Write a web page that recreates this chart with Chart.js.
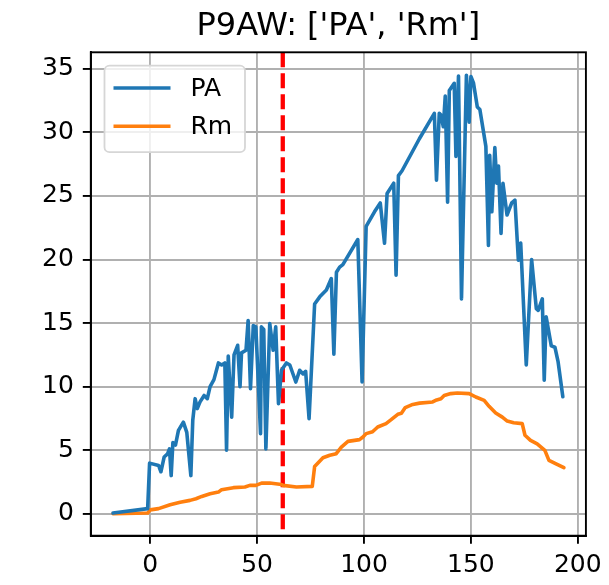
<!DOCTYPE html>
<html>
<head>
<meta charset="utf-8">
<script src="https://cdn.jsdelivr.net/npm/chart.js@4.4.1/dist/chart.umd.min.js"></script>
<style>
  html, body { margin: 0; padding: 0; background: #fff; }
  #box { width: 609px; height: 585px; }
</style>
</head>
<body>
<div id="box"><canvas id="c" width="609" height="585"></canvas></div>
<script>
(function(){
'use strict';

var TITEL = "P9AW: ['PA', 'Rm']";

// PA series (x, y)
var paX = [-17.4, -1.2, -0.3, 3.9, 5.0, 6.5, 8.1, 9.0, 9.8, 10.6, 11.8, 13.2, 15.5, 17.1, 19.0, 19.9,
  21.0, 22.0, 23.3, 25.2, 26.7, 28.0, 29.8, 31.9, 33.4, 34.9, 35.7, 36.5, 38.1, 39.2, 40.9, 42.0,
  42.7, 44.8, 45.8, 46.9, 48.2, 49.4, 51.6, 52.0, 53.1, 54.1, 55.9, 57.5, 58.7, 60.0, 61.4, 63.7,
  65.3, 68.1, 69.9, 71.5, 72.7, 74.3, 76.9, 79.3, 82.4, 84.7, 85.9, 87.1, 88.6, 90.1, 97.1, 99.1,
  101.0, 104.9, 107.6, 109.6, 110.8, 113.9, 115.0, 116.1, 117.8, 125.9, 132.9, 133.9, 135.2, 136.0,
  137.1, 138.0, 139.1, 139.9, 142.2, 143.0, 144.2, 145.6, 147.9, 149.2, 150.0, 151.2, 153.0, 154.2,
  157.0, 158.2, 158.8, 159.8, 161.2, 162.1, 162.9, 164.1, 165.0, 166.9, 169.1, 170.6, 172.2, 173.3,
  175.9, 178.4, 180.6, 181.5, 183.4, 184.3, 185.2, 187.6, 189.3, 190.8, 193.0];
var paY = [0.05, 0.4, 3.98, 3.8, 3.3, 4.46, 4.7, 5.1, 3.0, 5.6, 5.4, 6.56, 7.2, 6.4, 3.0, 7.35,
  9.05, 8.27, 8.8, 9.3, 9.05, 10.0, 10.55, 11.86, 11.7, 11.86, 5.0, 12.4, 7.6, 12.5, 13.25, 10.0,
  12.65, 12.86, 15.2, 9.84, 14.8, 14.7, 6.3, 14.7, 14.5, 5.1, 14.96, 12.86, 14.7, 8.66, 11.28, 11.86,
  11.7, 10.36, 11.28, 11.0, 11.2, 7.48, 16.5, 17.06, 17.6, 18.5, 12.54, 19.0, 19.4, 19.6, 21.57, 10.36,
  22.6, 23.75, 24.45, 21.28, 25.2, 26.0, 18.76, 26.6, 26.98, 29.5, 31.5, 26.24, 31.5, 31.36,
  30.44, 32.86, 24.5, 33.3, 33.86, 28.1, 34.43, 16.9, 34.5, 30.8, 34.4, 33.9, 32.0, 31.8,
  28.9, 21.1, 28.2, 23.75, 28.8, 26.0, 27.35, 22.05, 26.0, 23.5, 24.46, 24.67, 19.94, 21.3,
  11.7, 20.0, 16.14, 16.0, 16.9, 10.5, 15.5, 13.2, 13.1, 11.94, 9.2];

// Rm series
var rmX = [-17.4, -1.2, 0.0, 3.9, 9.3, 14.0, 18.6, 21.4, 24.1, 28.0, 31.9, 33.4, 38.9, 44.3, 46.6,
  49.4, 52.1, 55.9, 61.4, 62.1, 68.4, 75.8, 76.9, 80.8, 84.0, 87.0, 89.4, 92.5, 97.9, 99.5, 101.0,
  104.0, 106.4, 110.3, 112.7, 115.8, 117.5, 119.3, 122.8, 126.0, 132.1, 134.0, 136.0, 137.5, 140.6,
  143.7, 149.2, 152.3, 156.2, 158.5, 161.6, 164.7, 167.0, 170.0, 174.0, 175.3, 177.9, 181.0, 184.6,
  186.5, 189.6, 193.5];
var rmY = [0.0, 0.05, 0.3, 0.4, 0.7, 0.9, 1.05, 1.18, 1.36, 1.57, 1.7, 1.89, 2.05, 2.1, 2.23,
  2.23, 2.41, 2.41, 2.3, 2.23, 2.1, 2.15, 3.72, 4.4, 4.6, 4.72, 5.24, 5.69, 5.83, 6.03, 6.3,
  6.45, 6.82, 7.09, 7.4, 7.82, 7.9, 8.35, 8.6, 8.7, 8.79, 8.95, 9.05, 9.3, 9.45,
  9.5, 9.45, 9.18, 8.92, 8.45, 7.92, 7.6, 7.29, 7.15, 7.09, 6.17, 5.77, 5.5, 4.98,
  4.2, 3.94, 3.62];

var markerX = 62;           // red dashed vertical line
var xTicks = [0, 50, 100, 150, 200];
var yTicks = [0, 5, 10, 15, 20, 25, 30, 35];
var xBereich = [-27.8, 203.8];
var yBereich = [-1.73, 36.3];

var FONT = "'DejaVu Sans', sans-serif";

function paare(xs, ys) {
  return xs.map(function(x, i){ return {x: x, y: ys[i]}; });
}

var rahmenPlugin = {
  id: 'rahmen',
  afterDraw: function(chart) {
    var a = chart.chartArea, ctx = chart.ctx;
    ctx.save();
    ctx.strokeStyle = '#000';
    ctx.lineWidth = 1.9;
    ctx.strokeRect(a.left, a.top, a.right - a.left, a.bottom - a.top);

    // title, centred over the axes
    ctx.fillStyle = '#000';
    ctx.font = '32px ' + FONT;
    ctx.textAlign = 'center';
    ctx.textBaseline = 'middle';
    ctx.fillText(TITEL, (a.left + a.right) / 2, 26.5);

    // legend box in upper left
    var lx = a.left + 13.7, ly = a.top + 13.4, lw = 140.5, lh = 86.5, r = 5;
    ctx.beginPath();
    ctx.moveTo(lx + r, ly);
    ctx.arcTo(lx + lw, ly, lx + lw, ly + lh, r);
    ctx.arcTo(lx + lw, ly + lh, lx, ly + lh, r);
    ctx.arcTo(lx, ly + lh, lx, ly, r);
    ctx.arcTo(lx, ly, lx + lw, ly, r);
    ctx.closePath();
    ctx.fillStyle = 'rgba(255,255,255,0.8)';
    ctx.fill();
    ctx.strokeStyle = '#d6d6d6';
    ctx.lineWidth = 1.8;
    ctx.stroke();

    var eintraege = chart.data.datasets.filter(function(d){ return d.label; });
    eintraege.forEach(function(d, i){
      var yy = ly + 22.3 + i * 38.3;
      ctx.beginPath();
      ctx.moveTo(lx + 9, yy);
      ctx.lineTo(lx + 66, yy);
      ctx.strokeStyle = d.borderColor;
      ctx.lineWidth = 3.6;
      ctx.stroke();
      ctx.fillStyle = '#000';
      ctx.font = '25px ' + FONT;
      ctx.textAlign = 'left';
      ctx.textBaseline = 'middle';
      ctx.fillText(d.label, lx + 86, yy + 1);
    });
    ctx.restore();
  }
};

var ctx = document.getElementById('c').getContext('2d');
new Chart(ctx, {
  type: 'line',
  data: {
    datasets: [
      {
        label: 'PA',
        data: paare(paX, paY),
        borderColor: '#1f77b4',
        borderWidth: 3.6,
        pointRadius: 0,
        tension: 0,
        borderJoinStyle: 'round',
        borderCapStyle: 'round',
        fill: false
      },
      {
        label: 'Rm',
        data: paare(rmX, rmY),
        borderColor: '#ff7f0e',
        borderWidth: 3.6,
        pointRadius: 0,
        tension: 0,
        borderJoinStyle: 'round',
        borderCapStyle: 'round',
        fill: false
      },
      {
        label: '',
        data: [{x: markerX, y: yBereich[1]}, {x: markerX, y: yBereich[0]}],
        borderColor: '#ff0000',
        borderWidth: 4.3,
        borderDash: [15, 6],
        pointRadius: 0,
        fill: false
      }
    ]
  },
  options: {
    responsive: false,
    animation: false,
    devicePixelRatio: 1,
    layout: { padding: { left: 0, right: 21.5, top: 52.3, bottom: 0 } },
    scales: {
      x: {
        type: 'linear',
        min: xBereich[0],
        max: xBereich[1],
        afterBuildTicks: function(s){ s.ticks = xTicks.map(function(v){ return {value: v}; }); },
        afterFit: function(s){ s.height = 49.3; },
        grid: { color: '#b0b0b0', lineWidth: 1.9, tickLength: 8, tickColor: '#000', tickWidth: 1.9 },
        border: { color: '#000', width: 1.9 },
        ticks: { color: '#000', font: { family: FONT, size: 25 }, padding: 7, maxRotation: 0 }
      },
      y: {
        type: 'linear',
        min: yBereich[0],
        max: yBereich[1],
        afterBuildTicks: function(s){ s.ticks = yTicks.map(function(v){ return {value: v}; }); },
        afterFit: function(s){ s.width = 90.8; },
        grid: { color: '#b0b0b0', lineWidth: 1.9, tickLength: 8, tickColor: '#000', tickWidth: 1.9 },
        border: { color: '#000', width: 1.9 },
        ticks: { color: '#000', font: { family: FONT, size: 25 }, padding: 9 }
      }
    },
    plugins: {
      legend: { display: false },
      title: { display: false },
      tooltip: { enabled: false }
    }
  },
  plugins: [rahmenPlugin]
});

})();
</script>
</body>
</html>
